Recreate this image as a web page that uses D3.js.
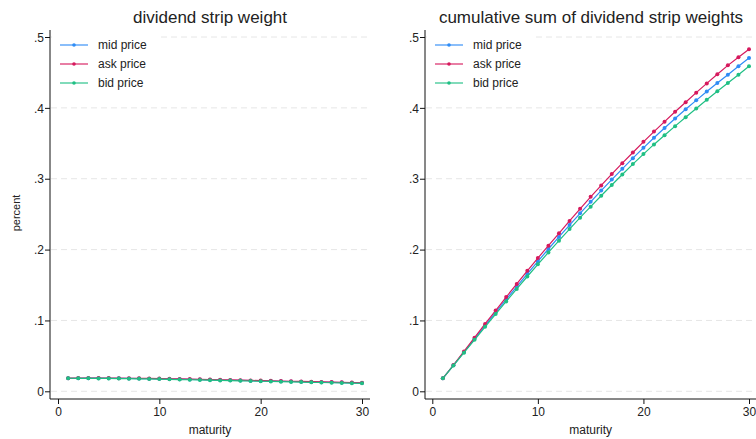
<!DOCTYPE html>
<html>
<head>
<meta charset="utf-8">
<script src="https://cdn.jsdelivr.net/npm/d3@7"></script>
<style>
  body { margin: 0; background: #fff; }
  svg text { font-family: "Liberation Sans", Arial, sans-serif; fill: #222; }
</style>
</head>
<body>
<div id="chart"></div>
<script>
const maturity = d3.range(1, 31);

// dividend strip weights (left panel)
const midWeight = [.0184, .0184, .0185, .0185, .0184, .0183, .0182, .0180, .0178, .0176,
  .0173, .0171, .0168, .0165, .0162, .0159, .0156, .0153, .0150, .0147,
  .0144, .0141, .0138, .0135, .0132, .0129, .0126, .0123, .0120, .0117];
const askWeight = [.0185, .0186, .0187, .0187, .0186, .0185, .0184, .0183, .0181, .0179,
  .0177, .0175, .0172, .0169, .0166, .0163, .0160, .0157, .0154, .0151,
  .0148, .0145, .0142, .0139, .0136, .0133, .0130, .0127, .0124, .0121];
const bidWeight = [.0184, .0183, .0183, .0182, .0181, .0180, .0178, .0176, .0174, .0172,
  .0169, .0166, .0163, .0160, .0157, .0154, .0151, .0148, .0145, .0142,
  .0139, .0136, .0133, .0130, .0127, .0124, .0121, .0118, .0115, .0112];

// cumulative sums (right panel)
const midCum = [.0184, .0367, .0552, .0740, .0928, .1113, .1297, .1478, .1657, .1834,
  .2008, .2178, .2346, .2512, .2674, .2832, .2988, .3140, .3290, .3436,
  .3578, .3716, .3850, .3980, .4106, .4230, .4350, .4468, .4586, .4704];
const askCum = [.0184, .0370, .0562, .0757, .0950, .1140, .1330, .1515, .1700, .1880,
  .2055, .2230, .2405, .2575, .2745, .2905, .3065, .3220, .3370, .3520,
  .3665, .3805, .3945, .4080, .4215, .4345, .4475, .4600, .4715, .4826];
const bidCum = [.0184, .0364, .0545, .0727, .0910, .1090, .1268, .1444, .1620, .1792,
  .1960, .2126, .2290, .2450, .2606, .2760, .2912, .3060, .3206, .3348,
  .3484, .3614, .3742, .3868, .3992, .4114, .4234, .4352, .4468, .4586];

const seriesNames = ["mid price", "ask price", "bid price"];
const colors = ["#2f8cf5", "#d6195d", "#1fbf84"];
const yTicks = [0, .1, .2, .3, .4, .5];
const yTickLabels = ["0", ".1", ".2", ".3", ".4", ".5"];
const xTicks = [0, 10, 20, 30];

const width = 756, height = 439;
const svg = d3.select("#chart").append("svg")
    .attr("width", width)
    .attr("height", height);

const y = d3.scaleLinear().domain([0, .5]).range([391.3, 37]);

function panel(opts) {
    const x = d3.scaleLinear().domain([0, 30]).range(opts.xr);
    const g = svg.append("g");

    // gridlines
    g.selectAll(".grid").data(yTicks).enter().append("line")
        .attr("x1", opts.left + 1).attr("x2", opts.right)
        .attr("y1", d => y(d)).attr("y2", d => y(d))
        .attr("stroke", "#e6e6e6")
        .attr("stroke-width", 1)
        .attr("stroke-dasharray", "6,4");

    // axes
    const yAxis = g.append("g")
        .attr("transform", `translate(${opts.left},0)`)
        .call(d3.axisLeft(y).tickValues(yTicks).tickFormat((d, i) => yTickLabels[i]).tickSize(5).tickSizeOuter(0));
    yAxis.select(".domain").attr("d", `M0,30V${opts.bottom}`).attr("stroke", "#111");
    yAxis.selectAll(".tick line").attr("stroke", "#111");
    yAxis.selectAll("text").attr("font-size", 12).attr("x", -6).attr("dy", "0.35em");

    const xAxis = g.append("g")
        .attr("transform", `translate(0,${opts.bottom})`)
        .call(d3.axisBottom(x).tickValues(xTicks).tickSize(5).tickSizeOuter(0));
    xAxis.select(".domain").attr("d", `M${opts.left},0H${opts.right}`).attr("stroke", "#111");
    xAxis.selectAll(".tick line").attr("stroke", "#111");
    xAxis.selectAll("text").attr("font-size", 12).attr("y", 8);

    // lines and points
    const line = d3.line().x((d, i) => x(maturity[i])).y(d => y(d));
    opts.series.forEach((s, k) => {
        g.append("path")
            .datum(s)
            .attr("fill", "none")
            .attr("stroke", colors[k])
            .attr("stroke-width", 1.2)
            .attr("d", line);
        g.selectAll(".pt" + k).data(s).enter().append("circle")
            .attr("cx", (d, i) => x(maturity[i]))
            .attr("cy", d => y(d))
            .attr("r", 2)
            .attr("fill", colors[k]);
    });

    // legend
    const lg = g.append("g");
    lg.append("rect")
        .attr("x", opts.left + 2).attr("y", 33)
        .attr("width", 105).attr("height", 62)
        .attr("fill", "#fff");
    seriesNames.forEach((n, k) => {
        const ly = 45 + k * 19;
        lg.append("line")
            .attr("x1", opts.left + 10).attr("x2", opts.left + 38)
            .attr("y1", ly).attr("y2", ly)
            .attr("stroke", colors[k])
            .attr("stroke-opacity", 0.75)
            .attr("stroke-width", 1.5);
        lg.append("circle")
            .attr("cx", opts.left + 24).attr("cy", ly).attr("r", 1.8)
            .attr("fill", colors[k]);
        lg.append("text")
            .attr("x", opts.left + 48).attr("y", ly + 4)
            .attr("font-size", 12)
            .text(n);
    });

    // title and x label
    g.append("text")
        .attr("x", opts.titleX).attr("y", 23)
        .attr("text-anchor", "middle")
        .attr("font-size", 17)
        .text(opts.title);
    g.append("text")
        .attr("x", (opts.xr[0] + opts.xr[1]) / 2).attr("y", 434)
        .attr("text-anchor", "middle")
        .attr("font-size", 12)
        .text("maturity");
}

panel({
    left: 50, right: 370, bottom: 399, xr: [58, 362],
    series: [midWeight, askWeight, bidWeight],
    title: "dividend strip weight", titleX: 210
});
panel({
    left: 425, right: 756, bottom: 399, xr: [432.3, 749],
    series: [midCum, askCum, bidCum],
    title: "cumulative sum of dividend strip weights", titleX: 591
});

// y axis label
svg.append("text")
    .attr("transform", "translate(20,213) rotate(-90)")
    .attr("text-anchor", "middle")
    .attr("font-size", 11)
    .text("percent");
</script>
</body>
</html>
